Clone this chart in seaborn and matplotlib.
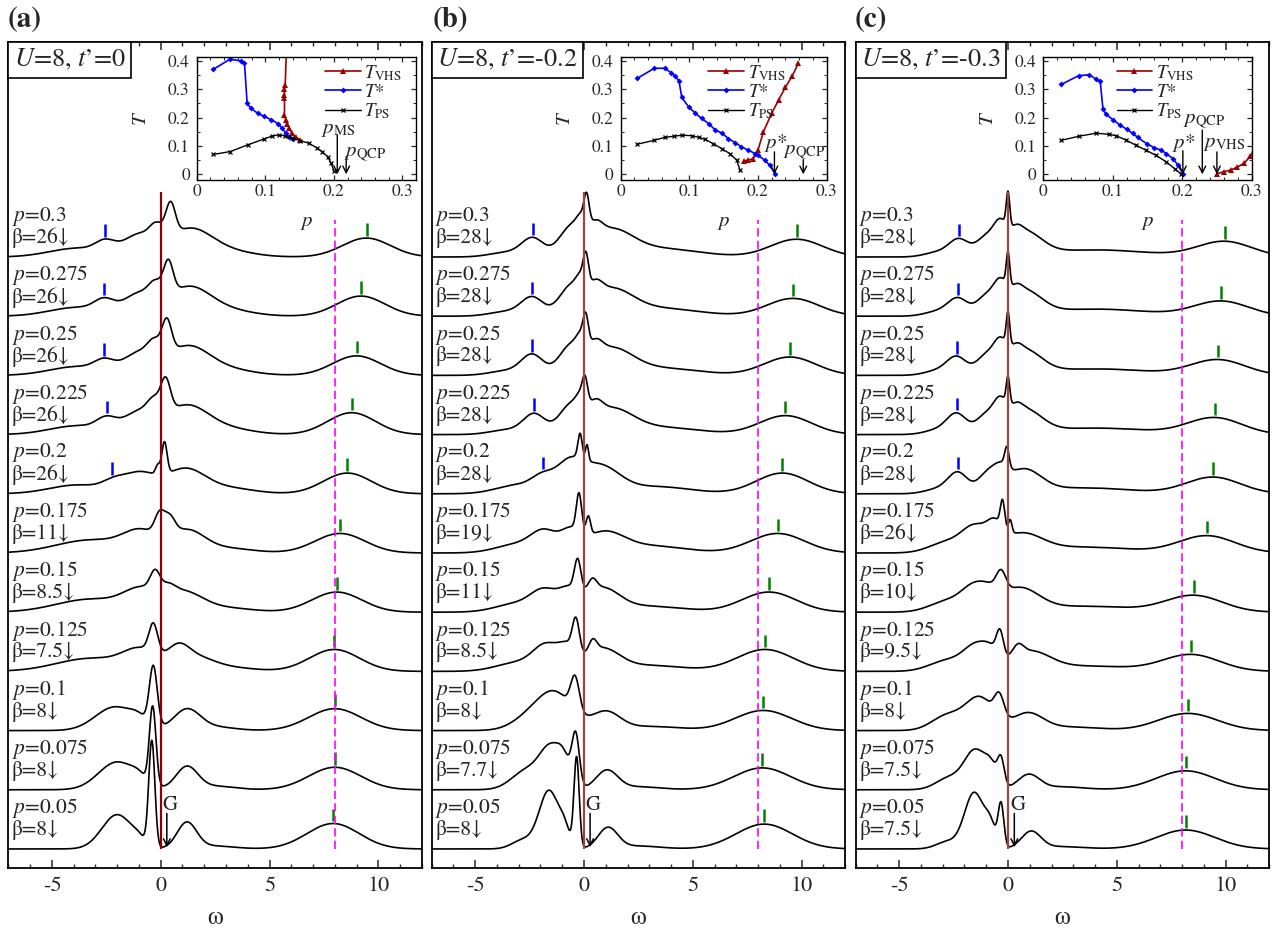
import numpy as np
import matplotlib
matplotlib.use('Agg')
import matplotlib.pyplot as plt
import seaborn as sns

# doping levels, top curve first
P_LABELS = ['0.3', '0.275', '0.25', '0.225', '0.2', '0.175', '0.15', '0.125', '0.1', '0.075', '0.05']
BETA_A = ['26', '26', '26', '26', '26', '11', '8.5', '7.5', '8', '8', '8']
BETA_B = ['28', '28', '28', '28', '28', '19', '11', '8.5', '8', '7.7', '8']
BETA_C = ['28', '28', '28', '28', '28', '26', '10', '9.5', '8', '7.5', '7.5']
TITLES = [r'$U$=8, $t$’=0', r'$U$=8, $t$’=-0.2', r'$U$=8, $t$’=-0.3']

# spectral peaks: (omega centre, height, width)
PEAKS_A = [
    [(-3.8, 0.15, 1.3), (-2.55, 0.18, 0.45), (-1.0, 0.35, 0.7), (-0.2, 0.25, 0.3), (0.45, 0.55, 0.22), (1.3, 0.45, 1.0), (3.0, 0.1, 1.2), (9.45, 0.32, 1.1)],
    [(-3.8, 0.15, 1.3), (-2.6, 0.19, 0.45), (-1.0, 0.35, 0.7), (-0.25, 0.25, 0.3), (0.35, 0.55, 0.22), (1.25, 0.47, 1.0), (3.0, 0.1, 1.2), (9.2, 0.34, 1.1)],
    [(-3.8, 0.15, 1.3), (-2.6, 0.17, 0.45), (-1.0, 0.35, 0.7), (-0.3, 0.25, 0.3), (0.28, 0.55, 0.22), (1.2, 0.47, 1.0), (3.0, 0.1, 1.2), (9.0, 0.33, 1.1)],
    [(-3.8, 0.15, 1.3), (-2.5, 0.19, 0.45), (-1.0, 0.35, 0.7), (-0.3, 0.25, 0.3), (0.23, 0.53, 0.22), (1.15, 0.47, 1.0), (3.0, 0.1, 1.2), (8.77, 0.37, 1.1)],
    [(-3.8, 0.15, 1.3), (-2.2, 0.12, 0.5), (-1.0, 0.33, 0.75), (-0.14, 0.15, 0.1), (0.17, 0.54, 0.12), (1.1, 0.4, 0.9), (3.0, 0.1, 1.2), (8.58, 0.35, 1.1)],
    [(-3.2, 0.22, 1.6), (-0.9, 0.32, 0.8), (-0.06, 0.34, 0.22), (0.4, 0.3, 0.25), (1.2, 0.36, 0.8), (3.0, 0.08, 1.2), (8.24, 0.33, 1.15)],
    [(-3.2, 0.22, 1.6), (-0.9, 0.32, 0.8), (-0.26, 0.31, 0.22), (0.35, 0.12, 0.3), (1.0, 0.33, 0.9), (3.0, 0.07, 1.2), (8.09, 0.34, 1.15)],
    [(-3.2, 0.22, 1.6), (-0.9, 0.32, 0.8), (-0.34, 0.49, 0.2), (0.8, 0.3, 0.5), (1.6, 0.2, 0.8), (3.0, 0.07, 1.2), (7.98, 0.37, 1.15)],
    [(-2.1, 0.4, 0.9), (-1.0, 0.12, 0.4), (-0.34, 1.0, 0.18), (1.2, 0.35, 0.6), (2.5, 0.06, 0.9), (8.0, 0.37, 1.2)],
    [(-2.0, 0.47, 0.85), (-1.0, 0.1, 0.35), (-0.37, 1.32, 0.15), (1.2, 0.38, 0.5), (2.5, 0.06, 0.9), (8.0, 0.38, 1.2)],
    [(-2.0, 0.58, 0.7), (-1.0, 0.08, 0.3), (-0.41, 1.78, 0.14), (1.2, 0.44, 0.45), (2.5, 0.05, 0.9), (7.92, 0.43, 1.2)],
]
PEAKS_B = [
    [(-3.5, 0.08, 0.8), (-2.35, 0.3, 0.5), (-0.6, 0.45, 0.55), (-0.15, 0.2, 0.2), (0.12, 0.49, 0.12), (0.55, 0.2, 0.3), (1.2, 0.42, 1.0), (3.5, 0.14, 1.8), (9.77, 0.3, 1.2)],
    [(-3.5, 0.08, 0.8), (-2.37, 0.3, 0.5), (-0.6, 0.45, 0.55), (-0.15, 0.2, 0.2), (0.09, 0.48, 0.12), (0.55, 0.2, 0.3), (1.2, 0.42, 1.0), (3.5, 0.13, 1.8), (9.6, 0.3, 1.2)],
    [(-3.5, 0.08, 0.8), (-2.37, 0.33, 0.5), (-0.6, 0.45, 0.55), (-0.15, 0.2, 0.2), (0.08, 0.45, 0.12), (0.55, 0.2, 0.3), (1.2, 0.42, 1.0), (3.5, 0.12, 1.8), (9.46, 0.31, 1.2)],
    [(-3.5, 0.08, 0.8), (-2.28, 0.33, 0.5), (-0.6, 0.45, 0.55), (-0.15, 0.2, 0.2), (0.05, 0.38, 0.12), (0.55, 0.2, 0.3), (1.2, 0.4, 1.0), (3.5, 0.12, 1.8), (9.26, 0.32, 1.2)],
    [(-3.0, 0.15, 1.0), (-1.9, 0.22, 0.5), (-0.7, 0.45, 0.6), (-0.18, 0.42, 0.1), (0.14, 0.27, 0.07), (0.7, 0.45, 0.9), (3.3, 0.12, 1.6), (9.11, 0.35, 1.2)],
    [(-3.0, 0.15, 1.0), (-1.8, 0.32, 0.6), (-0.6, 0.3, 0.45), (-0.23, 0.63, 0.12), (0.2, 0.3, 0.1), (0.9, 0.32, 0.9), (3.0, 0.12, 1.6), (8.9, 0.33, 1.25)],
    [(-3.0, 0.15, 1.0), (-1.8, 0.32, 0.6), (-0.7, 0.3, 0.45), (-0.29, 0.53, 0.15), (0.38, 0.2, 0.2), (0.8, 0.38, 0.8), (3.0, 0.1, 1.6), (8.5, 0.34, 1.25)],
    [(-3.0, 0.15, 1.0), (-1.7, 0.4, 0.6), (-0.75, 0.3, 0.4), (-0.37, 0.55, 0.16), (0.4, 0.2, 0.18), (0.8, 0.36, 0.8), (3.0, 0.1, 1.6), (8.32, 0.37, 1.3)],
    [(-2.5, 0.2, 0.8), (-1.3, 0.6, 0.8), (-0.41, 0.57, 0.2), (1.0, 0.3, 0.65), (3.0, 0.07, 1.4), (8.24, 0.34, 1.3)],
    [(-2.6, 0.33, 0.7), (-1.5, 0.65, 0.5), (-0.9, 0.33, 0.3), (-0.38, 0.85, 0.17), (1.05, 0.32, 0.5), (2.5, 0.05, 1.0), (8.19, 0.37, 1.3)],
    [(-2.8, 0.15, 0.5), (-1.61, 0.98, 0.45), (-0.9, 0.26, 0.25), (-0.34, 1.52, 0.12), (1.1, 0.35, 0.45), (2.5, 0.05, 1.0), (8.28, 0.42, 1.3)],
]
PEAKS_C = [
    [(-3.2, 0.08, 0.6), (-2.25, 0.28, 0.45), (-1.0, 0.3, 0.45), (-0.35, 0.35, 0.3), (0.0, 0.57, 0.08), (0.4, 0.12, 0.25), (0.7, 0.4, 0.8), (4.0, 0.12, 2.5), (9.95, 0.26, 1.25)],
    [(-3.2, 0.08, 0.6), (-2.3, 0.28, 0.45), (-1.0, 0.3, 0.45), (-0.35, 0.35, 0.3), (0.0, 0.55, 0.08), (0.4, 0.12, 0.25), (0.7, 0.4, 0.8), (4.0, 0.12, 2.5), (9.8, 0.25, 1.25)],
    [(-3.2, 0.08, 0.6), (-2.35, 0.29, 0.45), (-1.0, 0.3, 0.45), (-0.35, 0.35, 0.3), (0.0, 0.54, 0.08), (0.4, 0.12, 0.25), (0.7, 0.4, 0.8), (4.0, 0.11, 2.5), (9.65, 0.26, 1.25)],
    [(-3.2, 0.08, 0.6), (-2.35, 0.33, 0.45), (-1.0, 0.3, 0.45), (-0.35, 0.35, 0.3), (0.0, 0.45, 0.08), (0.4, 0.12, 0.25), (0.7, 0.4, 0.8), (4.0, 0.11, 2.5), (9.5, 0.28, 1.25)],
    [(-3.2, 0.08, 0.6), (-2.3, 0.34, 0.45), (-0.9, 0.33, 0.45), (-0.3, 0.2, 0.3), (-0.05, 0.33, 0.1), (0.7, 0.38, 0.8), (3.5, 0.1, 2.2), (9.42, 0.28, 1.25)],
    [(-2.8, 0.18, 0.8), (-1.5, 0.4, 0.6), (-0.6, 0.3, 0.35), (-0.25, 0.45, 0.1), (0.1, 0.22, 0.08), (0.6, 0.3, 0.95), (3.5, 0.1, 2.2), (9.14, 0.29, 1.3)],
    [(-2.8, 0.18, 0.8), (-1.5, 0.4, 0.6), (-0.8, 0.12, 0.4), (-0.32, 0.33, 0.22), (0.5, 0.38, 0.9), (3.5, 0.1, 2.2), (8.54, 0.28, 1.3)],
    [(-2.8, 0.18, 0.8), (-1.4, 0.42, 0.6), (-0.75, 0.15, 0.35), (-0.37, 0.42, 0.16), (0.45, 0.18, 0.25), (1.0, 0.3, 0.9), (3.5, 0.09, 2.2), (8.42, 0.28, 1.3)],
    [(-2.8, 0.25, 0.7), (-1.3, 0.55, 0.65), (-0.4, 0.38, 0.22), (0.9, 0.28, 0.7), (2.8, 0.06, 1.4), (8.27, 0.29, 1.35)],
    [(-2.7, 0.2, 0.6), (-1.5, 0.65, 0.5), (-0.75, 0.3, 0.3), (-0.32, 0.42, 0.15), (0.95, 0.25, 0.5), (2.5, 0.05, 1.0), (8.16, 0.32, 1.35)],
    [(-2.8, 0.12, 0.5), (-1.55, 0.95, 0.45), (-0.8, 0.32, 0.25), (-0.32, 0.72, 0.13), (1.06, 0.29, 0.45), (2.5, 0.04, 1.0), (8.16, 0.32, 1.35)],
]

# marker positions: lower Hubbard (blue, first five curves) and upper Hubbard (green)
LHB_A = [-2.56, -2.59, -2.59, -2.48, -2.22]
LHB_B = [-2.33, -2.37, -2.37, -2.28, -1.87]
LHB_C = [-2.24, -2.30, -2.35, -2.35, -2.29]
UHB_A = [9.46, 9.19, 9.0, 8.77, 8.58, 8.24, 8.09, 7.98, 8.0, 8.0, 7.9]
UHB_B = [9.77, 9.6, 9.46, 9.26, 9.11, 8.9, 8.5, 8.32, 8.24, 8.19, 8.28]
UHB_C = [9.95, 9.8, 9.65, 9.5, 9.42, 9.14, 8.54, 8.42, 8.27, 8.16, 8.16]

FERMI = 0.0
U_VAL = 8.0
FERMI_TOP = 11.1
U_TOP = 10.63
GAP_W = [0.28, 0.28, 0.29]

# inset phase diagrams
VHS_P_A = [0.131, 0.129, 0.128, 0.128, 0.128, 0.128, 0.13, 0.132, 0.135, 0.139, 0.145, 0.151]
VHS_T_A = [0.45, 0.315, 0.30, 0.28, 0.27, 0.21, 0.19, 0.178, 0.162, 0.145, 0.13, 0.121]
STAR_P_A = [0.024, 0.0485, 0.064, 0.0696, 0.0735, 0.079, 0.089, 0.0985, 0.109, 0.119, 0.1245, 0.13, 0.135, 0.14]
STAR_T_A = [0.37, 0.406, 0.40, 0.394, 0.25, 0.233, 0.215, 0.204, 0.192, 0.178, 0.162, 0.145, 0.133, 0.124]
PS_P_A = [0.024, 0.0485, 0.0745, 0.0975, 0.11, 0.12, 0.129, 0.139, 0.151, 0.164, 0.176, 0.183, 0.191, 0.196, 0.2]
PS_T_A = [0.07, 0.08, 0.104, 0.124, 0.135, 0.139, 0.135, 0.127, 0.119, 0.109, 0.092, 0.08, 0.062, 0.039, 0.013]

VHS_P_B = [0.179, 0.186, 0.193, 0.2, 0.208, 0.22, 0.23, 0.24, 0.25, 0.259]
VHS_T_B = [0.047, 0.05, 0.055, 0.085, 0.15, 0.215, 0.262, 0.307, 0.347, 0.392]
STAR_P_B = [0.024, 0.049, 0.064, 0.074, 0.079, 0.085, 0.089, 0.099, 0.109, 0.118, 0.128, 0.138, 0.147,
            0.157, 0.167, 0.176, 0.186, 0.196, 0.2, 0.21, 0.217, 0.225]
STAR_T_B = [0.338, 0.374, 0.374, 0.358, 0.347, 0.33, 0.271, 0.238, 0.215, 0.197, 0.179, 0.156, 0.146,
            0.126, 0.111, 0.097, 0.085, 0.073, 0.067, 0.05, 0.032, 0.002]
PS_P_B = [0.024, 0.049, 0.064, 0.077, 0.089, 0.104, 0.114, 0.123, 0.135, 0.147, 0.159, 0.169, 0.174]
PS_T_B = [0.106, 0.12, 0.13, 0.134, 0.138, 0.136, 0.13, 0.123, 0.108, 0.091, 0.073, 0.05, 0.014]

VHS_P_C = [0.25, 0.26, 0.27, 0.279, 0.289, 0.298, 0.305]
VHS_T_C = [0.002, 0.009, 0.015, 0.025, 0.039, 0.063, 0.095]
STAR_P_C = [0.026, 0.051, 0.066, 0.076, 0.082, 0.086, 0.09, 0.1, 0.111, 0.12, 0.129, 0.136, 0.15, 0.16,
            0.17, 0.177, 0.187, 0.194, 0.201]
STAR_T_C = [0.317, 0.348, 0.351, 0.336, 0.328, 0.23, 0.213, 0.193, 0.173, 0.159, 0.144, 0.13, 0.106, 0.094,
            0.085, 0.073, 0.055, 0.032, 0.002]
PS_P_C = [0.026, 0.051, 0.076, 0.095, 0.105, 0.119, 0.133, 0.148, 0.162, 0.177, 0.189, 0.198]
PS_T_C = [0.12, 0.134, 0.145, 0.141, 0.136, 0.121, 0.103, 0.085, 0.067, 0.044, 0.02, 0.002]

# inset arrows: (p, arrow top T, label, label p, label T)
ARROWS_A = [(0.205, 0.14, r'$p_{\rm MS}$', 0.206, 0.158), (0.218, 0.062, r'$p_{\rm QCP}$', 0.246, 0.075)]
ARROWS_B = [(0.224, 0.079, r'$p$*', 0.225, 0.112), (0.266, 0.052, r'$p_{\rm QCP}$', 0.268, 0.082)]
ARROWS_C = [(0.201, 0.083, r'$p$*', 0.202, 0.112), (0.229, 0.156, r'$p_{\rm QCP}$', 0.231, 0.19),
            (0.25, 0.079, r'$p_{\rm VHS}$', 0.26, 0.11)]

OMEGA = np.linspace(-7, 12, 1901)


def spectrum(omega, peaks):
    total = np.zeros_like(omega)
    for c, h, s in peaks:
        total += h * np.exp(-(omega - c) ** 2 / (2 * s ** 2))
    return total


def draw_panel(ax, peaks, betas, lhb, uhb, zero_color, title, gap_w):
    n = len(peaks)
    for i, pk in enumerate(peaks):
        off = n - 1 - i
        sns.lineplot(x=OMEGA, y=off + spectrum(OMEGA, pk), ax=ax, color='black', lw=1.2,
                     estimator=None, sort=False, legend=False)
        ax.text(-6.83, off + 0.69, r'$p$=' + P_LABELS[i], fontsize=15.5, va='center', ha='left')
        ax.text(-6.83, off + 0.32, 'β=' + betas[i] + '↓', fontsize=15.5, va='center', ha='left')
        w = uhb[i]
        y0 = off + spectrum(np.array([w]), pk)[0] + 0.04
        ax.plot([w, w], [y0, y0 + 0.21], color='#008000', lw=1.8, solid_capstyle='butt')
        if i < len(lhb):
            w = lhb[i]
            y0 = off + spectrum(np.array([w]), pk)[0] + 0.04
            ax.plot([w, w], [y0, y0 + 0.21], color='#0000ff', lw=1.8, solid_capstyle='butt')

    ax.vlines(FERMI, 0, FERMI_TOP, color=zero_color, lw=1.6, zorder=4)
    ax.vlines(U_VAL, 0, U_TOP, color='#ff00ff', lw=1.2, linestyles=(0, (5, 2.5)), zorder=4)

    ax.annotate('', xy=(gap_w, 0.03), xytext=(gap_w, 0.6),
                arrowprops=dict(arrowstyle='->', color='black', lw=1.1, shrinkA=0, shrinkB=0))
    ax.text(gap_w + 0.15, 0.74, 'G', fontsize=15, ha='center', va='center')

    ax.set_xlim(-7, 12)
    ax.set_ylim(-0.321, 13.637)
    ax.set_yticks([])
    ax.set_xticks([-5, 0, 5, 10])
    ax.set_xticks(np.arange(-7, 13, 1), minor=True)
    ax.tick_params(axis='x', which='both', direction='in', top=True, bottom=True, labelsize=16, pad=6)
    ax.tick_params(axis='x', which='major', length=6, width=1.1)
    ax.tick_params(axis='x', which='minor', length=3, width=1.0)
    ax.set_xlabel('ω', fontsize=18, labelpad=7)
    ax.set_ylabel('')
    for sp in ax.spines.values():
        sp.set_linewidth(1.3)
        sp.set_color('black')
    ax.text(0.0128, 0.9936, title, transform=ax.transAxes, ha='left', va='top', fontsize=19,
            bbox=dict(boxstyle='square,pad=0.2', fc='white', ec='black', lw=1.2), zorder=6)


def draw_inset(axin, vhs, star, ps, xmax, legend_x, arrows):
    axin.plot(vhs[0], vhs[1], color='#990000', ls='-', marker='^', markersize=4.5,
              markeredgewidth=0, lw=1.2, label=r'$T_{\rm VHS}$')
    axin.plot(star[0], star[1], color='#0000ff', ls='-', marker='D', markersize=3,
              markeredgewidth=0, lw=1.2, label=r'$T$*')
    axin.plot(ps[0], ps[1], color='black', ls='-', marker='x', markersize=3.5,
              markeredgewidth=0.9, lw=1.0, label=r'$T_{\rm PS}$')
    for p, top, text, lx, ly in arrows:
        axin.annotate('', xy=(p, 0.0), xytext=(p, top),
                      arrowprops=dict(arrowstyle='->', color='black', lw=1.0, shrinkA=0, shrinkB=0))
        axin.text(lx, ly, text, fontsize=15, ha='center', va='center')
    axin.set_xlim(0, xmax)
    axin.set_ylim(-0.02, 0.415)
    axin.set_xticks([0, 0.1, 0.2, 0.3])
    axin.set_xticklabels(['0', '0.1', '0.2', '0.3'])
    axin.set_yticks([0, 0.1, 0.2, 0.3, 0.4])
    axin.set_yticklabels(['0', '0.1', '0.2', '0.3', '0.4'])
    axin.set_xticks(np.arange(0, xmax + 0.001, 0.02), minor=True)
    axin.set_yticks(np.arange(0, 0.41, 0.05), minor=True)
    axin.tick_params(which='both', direction='in', top=True, right=True, labelsize=12.5)
    axin.tick_params(which='major', length=3.5, width=0.9)
    axin.tick_params(which='minor', length=2, width=0.7)
    axin.tick_params(axis='x', pad=3)
    axin.tick_params(axis='y', pad=5)
    axin.set_xlabel(r'$p$', fontsize=15, labelpad=9)
    axin.set_ylabel(r'$T$', fontsize=15, labelpad=12)
    for sp in axin.spines.values():
        sp.set_linewidth(1.0)
        sp.set_color('black')
    axin.legend(loc='upper left', bbox_to_anchor=(legend_x, 0.95), frameon=False, fontsize=13.5,
                borderpad=0, borderaxespad=0, labelspacing=0.05, handlelength=1.9, handletextpad=0.2)


def main():
    sns.set_theme(style='ticks')
    plt.rcParams['font.family'] = ['STIXGeneral', 'DejaVu Serif']
    plt.rcParams['mathtext.fontset'] = 'stix'
    plt.rcParams['axes.unicode_minus'] = False
    plt.rcParams['axes.facecolor'] = 'white'

    fig = plt.figure(figsize=(12.76, 9.33), dpi=100)
    lefts = [0.0066, 0.3383, 0.6706]
    panels = [
        (PEAKS_A, BETA_A, LHB_A, UHB_A, '#8b0000'),
        (PEAKS_B, BETA_B, LHB_B, UHB_B, '#a3423d'),
        (PEAKS_C, BETA_C, LHB_C, UHB_C, '#a3423d'),
    ]
    for k, (peaks, betas, lhb, uhb, col) in enumerate(panels):
        ax = fig.add_axes([lefts[k], 0.0697, 0.324, 0.8856])
        draw_panel(ax, peaks, betas, lhb, uhb, col, TITLES[k], GAP_W[k])

    insets = [
        ([0.1542, 0.8071, 0.1719, 0.1322], (VHS_P_A, VHS_T_A), (STAR_P_A, STAR_T_A), (PS_P_A, PS_T_A), 0.32, 0.585, ARROWS_A),
        ([0.4864, 0.8071, 0.1614, 0.1322], (VHS_P_B, VHS_T_B), (STAR_P_B, STAR_T_B), (PS_P_B, PS_T_B), 0.3, 0.425, ARROWS_B),
        ([0.8176, 0.8071, 0.1633, 0.1322], (VHS_P_C, VHS_T_C), (STAR_P_C, STAR_T_C), (PS_P_C, PS_T_C), 0.3, 0.352, ARROWS_C),
    ]
    for rect, vhs, star, ps, xmax, lx, arrows in insets:
        axin = fig.add_axes(rect)
        draw_inset(axin, vhs, star, ps, xmax, lx, arrows)

    for x, lab in zip([8, 433, 855], ['(a)', '(b)', '(c)']):
        fig.text(x / 1276, 1 - 20 / 933, lab, fontsize=21, fontweight='bold', ha='left', va='center')

    fig.savefig('out.png', dpi=100)


if __name__ == '__main__':
    main()
